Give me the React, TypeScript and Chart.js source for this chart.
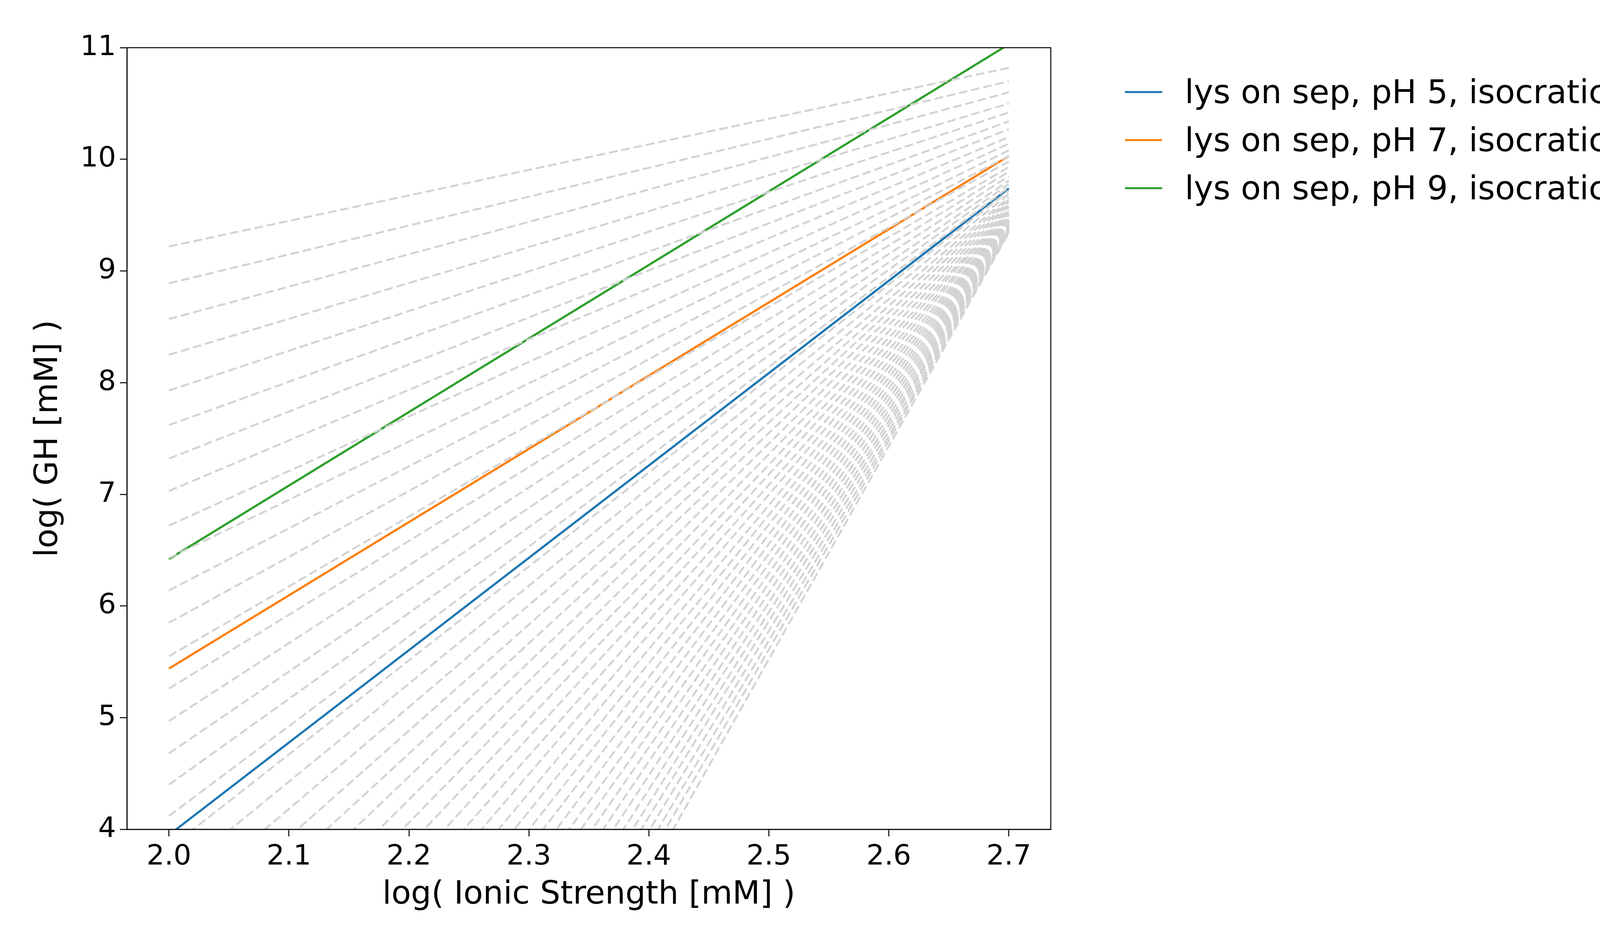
import React, { useEffect, useRef } from "react";
import { Chart, registerables } from "chart.js";
Chart.register(...registerables);

const xStart = 2.0;
const xEnd = 2.7;
const xTicks = [2.0, 2.1, 2.2, 2.3, 2.4, 2.5, 2.6, 2.7];
const yTicks = [4, 5, 6, 7, 8, 9, 10, 11];
const seriesNames = ["lys on sep, pH 5, isocratic", "lys on sep, pH 7, isocratic", "lys on sep, pH 9, isocratic"];
const seriesColors = ["#1f77b4", "#ff7f0e", "#2ca02c"];
const seriesStart = [3.95, 5.44, 6.42];
const seriesEnd = [9.74, 10.03, 11.03];
const grayStart = [9.22, 8.89, 8.57, 8.25, 7.93, 7.62, 7.32, 7.03, 6.72, 6.43, 6.14, 5.85, 5.55, 5.26, 4.97, 4.68, 4.40, 4.12, 3.83, 3.55, 3.27, 2.98, 2.70, 2.42, 2.14, 1.86, 1.58, 1.30, 1.02, 0.74, 0.46, 0.18, -0.10, -0.38, -0.66, -0.94, -1.22, -1.50, -1.78, -2.06, -2.34, -2.62, -2.90, -3.18, -3.46, -3.74, -4.02];
const grayEnd = [10.82, 10.70, 10.60, 10.50, 10.42, 10.34, 10.27, 10.20, 10.14, 10.08, 10.03, 9.98, 9.93, 9.89, 9.85, 9.81, 9.78, 9.75, 9.72, 9.69, 9.66, 9.64, 9.62, 9.60, 9.58, 9.56, 9.54, 9.53, 9.51, 9.50, 9.48, 9.47, 9.46, 9.45, 9.44, 9.43, 9.42, 9.41, 9.40, 9.39, 9.38, 9.37, 9.37, 9.36, 9.35, 9.35, 9.34];

const FONT = "'DejaVu Sans', sans-serif";

export default function App() {
  const ref = useRef<HTMLCanvasElement>(null);
  useEffect(() => {
    const datasets: any[] = [];
    grayStart.forEach((s, i) => {
      datasets.push({
        data: [{ x: xStart, y: s }, { x: xEnd, y: grayEnd[i] }],
        borderColor: "#d3d3d3", borderWidth: 5, borderDash: [22, 10],
        pointRadius: 0, fill: false,
      });
    });
    seriesNames.forEach((n, i) => {
      datasets.push({
        label: n,
        data: [{ x: xStart, y: seriesStart[i] }, { x: xEnd, y: seriesEnd[i] }],
        borderColor: seriesColors[i], borderWidth: 5.5, pointRadius: 0, fill: false,
      });
    });
    const box = {
      id: "box",
      afterDraw(c: any) {
        const a = c.chartArea; const ctx = c.ctx;
        ctx.save(); ctx.strokeStyle = "black"; ctx.lineWidth = 2.5;
        ctx.strokeRect(a.left, a.top, a.right - a.left, a.bottom - a.top);
        ctx.restore();
      },
    };
    const chart = new Chart(ref.current!, {
      type: "line",
      data: { datasets },
      plugins: [box],
      options: {
        responsive: false, animation: false,
        layout: { padding: { top: 122, right: 1510, left: 0, bottom: 0 } },
        plugins: { legend: { display: false }, tooltip: { enabled: false } },
        scales: {
          x: {
            type: "linear", min: 1.965, max: 2.735,
            afterBuildTicks: (s: any) => { s.ticks = xTicks.map((v) => ({ value: v })); },
            afterFit: (s: any) => { s.height = 278; },
            ticks: { color: "black", font: { family: FONT, size: 72 }, padding: 10, callback: (v: any) => Number(v).toFixed(1), maxRotation: 0 },
            grid: { drawOnChartArea: false, color: "black", tickLength: 18, lineWidth: 2.5 },
            border: { color: "black", width: 2.5 },
            title: { display: true, text: "log( Ionic Strength [mM] )", color: "black", font: { family: FONT, size: 82 }, padding: { top: 0, bottom: 60 } },
          },
          y: {
            type: "linear", min: 4, max: 11,
            afterBuildTicks: (s: any) => { s.ticks = yTicks.map((v) => ({ value: v })); },
            afterFit: (s: any) => { s.width = 325; },
            ticks: { color: "black", font: { family: FONT, size: 72 }, padding: 10 },
            grid: { drawOnChartArea: false, color: "black", tickLength: 18, lineWidth: 2.5 },
            border: { color: "black", width: 2.5 },
            title: { display: true, text: "log( GH [mM] )", color: "black", font: { family: FONT, size: 82 }, padding: { top: 76, bottom: 0 } },
          },
        },
      } as any,
    });
    return () => chart.destroy();
  }, []);
  return (
    <div style={{ position: "absolute", left: 0, top: 0, width: 4200, height: 2400, background: "white" }}>
      <canvas ref={ref} width={4200} height={2400} style={{ width: 4200, height: 2400 }} />
      {seriesNames.map((n, i) => (
        <div key={n} style={{ position: "absolute", left: 2880, top: 185 + i * 123, height: 100, display: "flex", alignItems: "center", fontFamily: FONT, fontSize: 84, whiteSpace: "nowrap" }}>
          <div style={{ width: 95, height: 5, background: seriesColors[i], marginRight: 58 }} />
          <span>{n}</span>
        </div>
      ))}
    </div>
  );
}
